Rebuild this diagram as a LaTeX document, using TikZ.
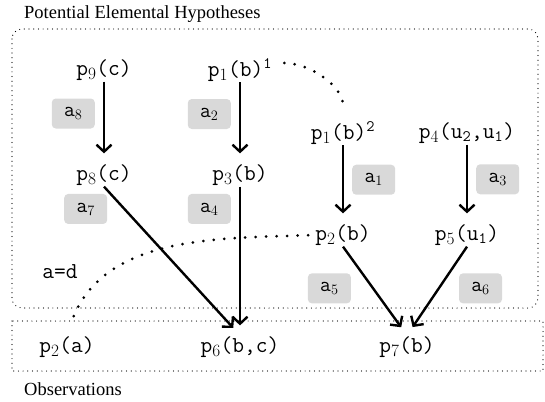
\documentclass[tikz,border=0pt]{standalone}
\usepackage{fontspec}
\setmainfont{Liberation Serif}
\usetikzlibrary{arrows.meta}

\begin{document}
\begin{tikzpicture}[x=1pt, y=1pt, node distance={105pt},
        hyp/.style = {font=\fontsize{22.8}{24}\selectfont\ttfamily, inner sep=1pt},
        lbl/.style = {fill=black!15, rounded corners=4pt, minimum width=43pt, minimum height=30pt, inner sep=0pt, font=\fontsize{21}{22}\selectfont\ttfamily},
        title/.style = {font=\fontsize{18.5}{20}\selectfont, inner sep=0pt, anchor=west},
        frame/.style = {line width=1.2pt, line cap=round, dash pattern=on 0pt off 4.7pt},
        link/.style = {line width=3pt, line cap=round, dash pattern=on 0pt off 10.5pt},
        arr/.style = {line width=2.4pt, shorten >=10pt, -{Straight Barb[length=7pt,width=15pt]}}]
            \useasboundingbox (0,0) rectangle (545,-401);

            \draw[frame, rounded corners=10pt] (12,-29) rectangle (538,-308);
            \draw[frame] (12,-321) rectangle (543,-371);
            \node[title] (hyptitle) at (24,-14) {Potential Elemental Hypotheses};
            \node[title] (obstitle) at (24,-389) {Observations};

            \node[hyp] (p9c) at (104,-70) {p$_9$(c)};
            \node[hyp] (p8c) [below of=p9c] {p$_8$(c)};
            \node[hyp] (p1b1) at (240,-70) {p$_1$(b)\textsuperscript{1}};
            \node[hyp] (p3b) [below of=p1b1] {p$_3$(b)};

            \path[arr] (p9c) edge node[lbl, left=8pt, pos=0.39] {a$_8$} (p8c);
            \path[arr] (p1b1) edge node[lbl, left=8pt, pos=0.39] {a$_2$} (p3b);

            \node[hyp] (p1b2) at (343,-133) {p$_1$(b)\textsuperscript{2}};
            \node[hyp] (p4u) at (467,-133) {p$_4$(u\textsubscript{2},u\textsubscript{1})};
            \node[hyp] (p2b) [below of=p1b2, node distance=102pt] {p$_2$(b)};
            \node[hyp] (p5u) [below of=p4u, node distance=102pt] {p$_5$(u\textsubscript{1})};

            \path[arr] (p1b2) edge node[lbl, right=8pt, pos=0.44] {a$_1$} (p2b);
            \path[arr] (p4u) edge node[lbl, right=8pt, pos=0.44] {a$_3$} (p5u);

            \node[hyp] (p2a) at (67,-347) {p$_2$(a)};
            \node[hyp] (p6bc) at (240,-347) {p$_6$(b,c)};
            \node[hyp] (p7b) at (407,-347) {p$_7$(b)};

            \path[arr] (p8c.south) edge node[lbl, left=16pt, pos=0.15] {a$_7$} (p6bc.north);
            \path[arr] (p3b) edge node[lbl, left=8pt, pos=0.15] {a$_4$} (p6bc);
            \path[arr] (p2b.south) edge node[lbl, left=21pt, pos=0.47] {a$_5$} (p7b.north);
            \path[arr] (p5u.south) edge node[lbl, right=19pt, pos=0.47] {a$_6$} (p7b.north);

            \node[hyp] (eqad) at (60,-272) {a=d};
            \draw[link, shorten <=11pt, shorten >=15pt] ([yshift=7pt]p1b1.east) to[out=0, in=90] (p1b2.north);
            \draw[link, shorten <=6pt, shorten >=10pt] (p2b.west) to[out=182, in=72] (p2a.north);
        \end{tikzpicture}
\end{document}
